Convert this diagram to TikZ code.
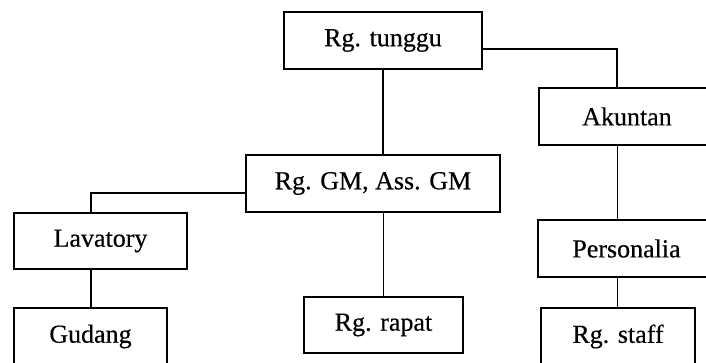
\documentclass[tikz,border=0pt]{standalone}
\usepackage{fontspec}
\setmainfont[FakeBold=0.4]{Liberation Serif}
\begin{document}
\begin{tikzpicture}[x=1pt,y=-1pt,
  room/.style={draw=black, line width=1.5pt, fill=white, inner sep=0pt,
    minimum height=57pt, font=\fontsize{26}{30}\selectfont},
  link/.style={draw=black, line width=1.4pt},
  thinlink/.style={draw=black, line width=1.2pt}]
\useasboundingbox (0,0) rectangle (706,363);
\clip (0,0) rectangle (706,363);

% rooms
\node[room, minimum width=198pt] (tunggu) at (383,40.5) {Rg. tunggu};
\node[room, minimum width=254pt] (gm) at (373,183.5) {Rg. GM, Ass. GM};
\node[room, minimum width=176pt] (akuntan) at (627,116.5) {Akuntan};
\node[room, minimum width=177pt] (personalia) at (626.5,248.5) {Personalia};
\node[room, minimum width=173pt, minimum height=56pt] (lavatory) at (100.5,241) {Lavatory};
\node[room, minimum width=153pt] (gudang) at (90.5,336.5) {Gudang};
\node[room, minimum width=159pt, minimum height=56pt] (rapat) at (383.5,325) {Rg. rapat};
\node[room, minimum width=154pt] (staff) at (618,336.5) {Rg. staff};

% connections
\draw[link] (tunggu.south) -- (tunggu.south |- gm.north);
\draw[link] ([yshift=-8.5pt]tunggu.east) -| ([xshift=-10pt]akuntan.north);
\draw[thinlink] ([xshift=-9.5pt]akuntan.south) -- ([xshift=-9.5pt]akuntan.south |- personalia.north);
\draw[thinlink] ([xshift=-0.5pt]staff.north) -- ([xshift=-0.5pt]staff.north |- personalia.south);
\draw[link] ([yshift=-9.5pt]gm.west) -| ([xshift=-9.5pt]lavatory.north);
\draw[link] ([xshift=0.5pt]gudang.north) -- ([xshift=0.5pt]gudang.north |- lavatory.south);
\draw[thinlink] ([xshift=10.5pt]gm.south) -- ([xshift=10.5pt]gm.south |- rapat.north);
\end{tikzpicture}
\end{document}
